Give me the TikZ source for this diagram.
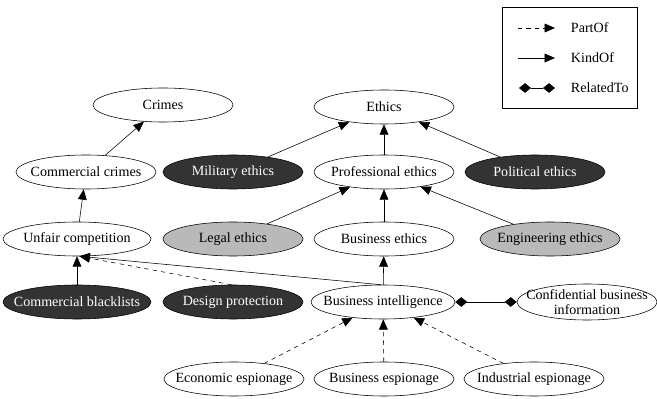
\documentclass[tikz,border=0pt]{standalone}
\usepackage{fontspec}
\setmainfont{Liberation Serif}
\usetikzlibrary{arrows.meta,shapes.geometric}
\definecolor{darknode}{HTML}{333333}
\definecolor{graynode}{HTML}{B9B9B9}

\begin{document}
\begin{tikzpicture}[
  x=0.025cm,y=-0.025cm,
  font=\fontsize{10}{10.5}\selectfont,
  concept/.style={draw,ellipse,fill=white,minimum width=3.5cm,minimum height=0.85cm,inner xsep=-1.3cm,inner ysep=0pt,align=center},
  darkc/.style={concept,fill=darknode,text=white},
  grayc/.style={concept,fill=graynode},
  kindof/.style={-{Triangle[length=2.6mm,width=2.2mm]},thin},
  partof/.style={-{Triangle[length=2.6mm,width=2.2mm]},thin,dashed},
  relto/.style={{Diamond[length=3mm,width=2.4mm]}-{Diamond[length=3mm,width=2.4mm]},thin}
]
\useasboundingbox (0,0) rectangle (657,399);
% legend
\node[draw,thin,minimum width=3.375cm,minimum height=2.525cm,inner sep=0pt] (legend) at (569.5,57.5) {};
\coordinate (p1) at (518,28); \coordinate (p2) at (555,28);
\coordinate (k1) at (518,58); \coordinate (k2) at (555,58);
\coordinate (r1) at (519,88); \coordinate (r2) at (555,88);
\draw[partof] (p1) -- (p2);
\draw[kindof] (k1) -- (k2);
\draw[relto] (r1) -- (r2);
\node[anchor=west] (lp) at (566,28) {PartOf};
\node[anchor=west] (lk) at (566,58) {KindOf};
\node[anchor=west] (lr) at (566,88) {RelatedTo};
% concepts
\node[concept] (crimes) at (163,105) {Crimes};
\node[concept] (ethics) at (384,107) {Ethics};
\node[concept] (comcrimes) at (86,172) {Commercial crimes};
\node[darkc] (military) at (233,172) {Military ethics};
\node[concept] (prof) at (384,172) {Professional ethics};
\node[darkc] (political) at (535,172) {Political ethics};
\node[concept,minimum width=3.7cm] (unfair) at (77,239) {Unfair competition};
\node[grayc] (legal) at (233,239) {Legal ethics};
\node[concept] (busethics) at (384,239) {Business ethics};
\node[grayc] (eng) at (550,239) {Engineering ethics};
\node[darkc,minimum width=3.7cm] (blacklists) at (77,302) {Commercial blacklists};
\node[darkc] (design) at (233,302) {Design protection};
\node[concept,minimum width=3.6cm] (busint) at (383,302) {Business intelligence};
\node[concept,minimum height=0.9cm,inner ysep=-0.2cm] (confid) at (587,302) {Confidential business\\information};
\node[concept] (econ) at (234,379) {Economic espionage};
\node[concept] (busesp) at (384,379) {Business espionage};
\node[concept] (indust) at (534,379) {Industrial espionage};
% relations
\draw[kindof] (comcrimes) -- (crimes);
\draw[kindof] (military) -- (ethics);
\draw[kindof] (prof) -- (ethics);
\draw[kindof] (political) -- (ethics);
\draw[kindof] (unfair) -- (comcrimes);
\draw[kindof] (legal) -- (prof);
\draw[kindof] (busethics) -- (prof);
\draw[kindof] (eng) -- (prof);
\draw[kindof] (blacklists) -- (unfair);
\draw[partof] (design.95) -- (unfair.-82);
\draw[kindof] (busint.97) -- (unfair.-82);
\draw[kindof] (busint) -- (busethics);
\draw[relto] (busint) -- (confid);
\draw[partof] (econ) -- (busint);
\draw[partof] (busesp) -- (busint);
\draw[partof] (indust) -- (busint);
\end{tikzpicture}
\end{document}
